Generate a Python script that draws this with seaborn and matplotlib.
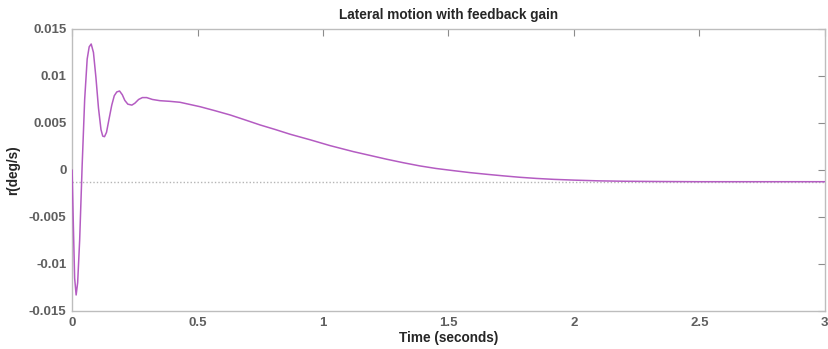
"""Lateral motion response (yaw rate r) with feedback gain, redrawn with seaborn."""

import matplotlib

matplotlib.use("Agg")
import matplotlib.pyplot as plt
import pandas as pd
import seaborn as sns

# Yaw-rate response (time in s, r in deg/s)
time_s = [
    0.0, 0.005, 0.01, 0.016, 0.022, 0.03, 0.04, 0.05, 0.06, 0.068,
    0.076, 0.085, 0.095, 0.105, 0.115, 0.122, 0.129, 0.137, 0.147, 0.158,
    0.168, 0.178, 0.189, 0.2, 0.21, 0.222, 0.238, 0.25, 0.265, 0.28,
    0.297, 0.32, 0.35, 0.39, 0.43, 0.51, 0.57, 0.63, 0.69, 0.749,
    0.81, 0.869, 0.95, 1.028, 1.121, 1.19, 1.254, 1.32, 1.386, 1.45,
    1.519, 1.585, 1.652, 1.72, 1.785, 1.85, 1.92, 2.0, 2.1, 2.2,
    2.35, 2.5, 2.75, 3.0,
]
yaw_rate = [
    0.0, -0.006, -0.0115, -0.0133, -0.012, -0.0075, 0.0005, 0.0075, 0.0118, 0.0131,
    0.0134, 0.0125, 0.0098, 0.0066, 0.0043, 0.0036, 0.00354, 0.004, 0.0054, 0.0069,
    0.0079, 0.0083, 0.0084, 0.008, 0.0074, 0.007, 0.0069, 0.0071, 0.0075, 0.0077,
    0.0077, 0.0075, 0.00737, 0.0073, 0.0072, 0.00673, 0.0063, 0.00585, 0.00532, 0.00479,
    0.0043, 0.0038, 0.0032, 0.00259, 0.00195, 0.00153, 0.00114, 0.00077, 0.00043, 0.00016,
    -0.00007, -0.00028, -0.00046, -0.00063, -0.00078, -0.0009, -0.001, -0.00108, -0.00116, -0.0012,
    -0.00123, -0.00125, -0.00125, -0.00125,
]
steady_state = -0.00124

x_ticks = [0, 0.5, 1, 1.5, 2, 2.5, 3]
x_ticklabels = ["0", "0.5", "1", "1.5", "2", "2.5", "3"]
y_ticks = [-0.015, -0.01, -0.005, 0, 0.005, 0.01, 0.015]
y_ticklabels = ["-0.015", "-0.01", "-0.005", "0", "0.005", "0.01", "0.015"]

sns.set_style("white")
plt.rcParams["font.family"] = ["Liberation Sans", "DejaVu Sans"]

df = pd.DataFrame({"t": time_s, "r": yaw_rate})

fig = plt.figure(figsize=(8.29, 3.49), dpi=100)
ax = fig.add_axes([0.087, 0.109, 0.908, 0.808])

ax.axhline(steady_state, color="#b5b5b5", lw=1.0, ls=(0, (1, 1.5)), zorder=1)
sns.lineplot(data=df, x="t", y="r", color="#b45cc2", lw=1.1, ax=ax, zorder=3)

ax.set_xlim(0, 3)
ax.set_ylim(-0.015, 0.015)
ax.set_xticks(x_ticks)
ax.set_xticklabels(x_ticklabels)
ax.set_yticks(y_ticks)
ax.set_yticklabels(y_ticklabels)

# MATLAB-like box: light grey frame, inward ticks on all four sides
for sp in ax.spines.values():
    sp.set_color("#bdbdbd")
    sp.set_linewidth(1.0)
ax.tick_params(direction="in", length=5, width=0.8, color="#8c8c8c",
               top=True, right=True, labelsize=9.5, labelcolor="#5f5f5f", pad=4)
for lab in ax.get_xticklabels() + ax.get_yticklabels():
    lab.set_fontweight("bold")

ax.set_xlabel("Time (seconds)", fontsize=9.8, fontweight="bold", labelpad=2)
ax.set_ylabel("r(deg/s)", fontsize=9.8, fontweight="bold", labelpad=6)
ax.set_title("Lateral motion with feedback gain", fontsize=9.8, fontweight="bold", pad=7)

fig.savefig("out.png", dpi=100)
plt.close(fig)
